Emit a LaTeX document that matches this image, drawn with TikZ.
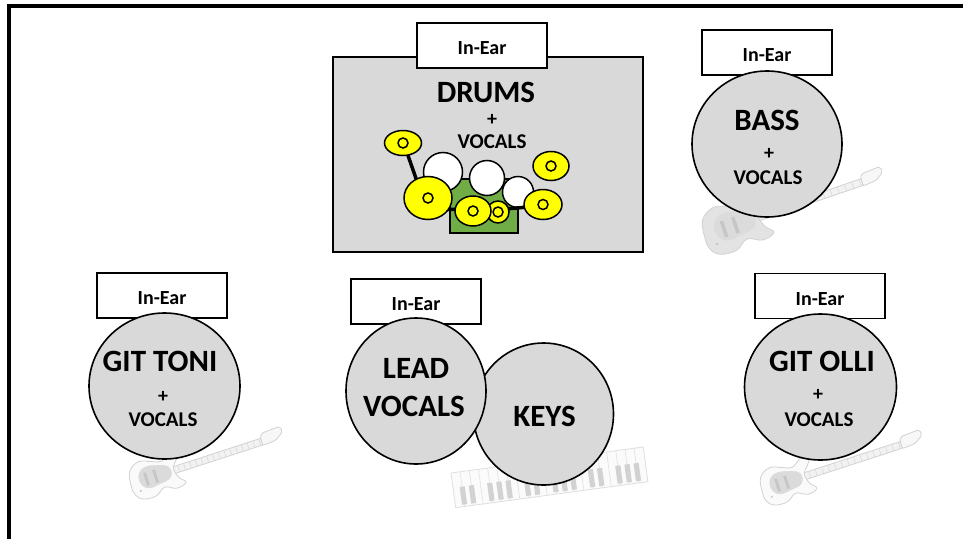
\documentclass[tikz,border=0pt]{standalone}
\usepackage{fontspec}
\setmainfont{Carlito}
\usetikzlibrary{shapes.geometric}
\definecolor{stagegray}{HTML}{D9D9D9}
\definecolor{cymyellow}{HTML}{FFFF00}
\definecolor{kitgreen}{HTML}{70AD47}
\tikzset{
  stagebox/.style={draw=black, line width=1.3pt, fill=white, minimum width=130pt, minimum height=45pt, inner sep=0pt, text height=18pt, text depth=0pt, font=\fontsize{20}{24}\selectfont\bfseries},
  member/.style={draw=black, line width=1.6pt, fill=stagegray, ellipse, inner sep=0pt},
  bigtxt/.style={font=\fontsize{31}{36}\selectfont\bfseries, anchor=base, inner sep=0pt},
  smalltxt/.style={font=\fontsize{21}{25}\selectfont\bfseries, anchor=base, inner sep=0pt},
  plustxt/.style={font=\fontsize{20}{24}\selectfont\bfseries, inner sep=0pt},
  cymbal/.style={draw=black, line width=1.5pt, fill=cymyellow},
  drumshell/.style={draw=black, line width=1.5pt, fill=white},
  stand/.style={draw=black, line width=3.5pt},
  gline/.style={draw=gray!35, line width=0.8pt},
}
% guitar: #1 x, #2 y, #3 rotation, #4 neck length, #5 body scale, #6 body fill
\newcommand\myguitarpic[6]{%
  \begin{scope}[shift={(#1,#2)}, rotate=#3]
    \filldraw[gline, fill=gray!6, rounded corners=2pt] (#4-22,-4) -- (#4-20,-8) -- (#4,-9) -- (#4+1,-3) -- (#4-8,3) -- (#4-22,4) -- cycle;
    \filldraw[gline, fill=gray!10] (18,-3.5) rectangle (#4-22,3.5);
    \foreach \f in {0,...,14} {\draw[gray!30, line width=0.6pt] ({24+\f*(#4-48)/14},-3.5) -- ++(0,7);}
    \begin{scope}[scale=#5]
      \filldraw[gline, fill=#6] plot[smooth cycle, tension=0.65] coordinates {(-28,2) (-25,-13) (-13,-20) (0,-16) (10,-13) (22,-20) (31,-20) (26,-10) (20,-3) (22,8) (28,16) (17,19) (5,14) (-6,20) (-20,19) (-27,12)};
      \filldraw[gray!28] plot[smooth cycle, tension=0.7] coordinates {(-18,-3) (-10,-12) (6,-10) (16,-4) (14,6) (2,9) (-13,9)};
      \fill[gray!45] (-12,-7) rectangle (-9,7);
      \fill[gray!45] (-2,-7) rectangle (1,7);
      \fill[gray!45] (-20,10) circle (1.2);
    \end{scope}
  \end{scope}}
\begin{document}
\begin{tikzpicture}[x=1pt, y=-1pt]
\useasboundingbox (0,0) rectangle (963,538);
\fill[white] (0,0) rectangle (963,538);
\begin{scope}
\clip (0,0) rectangle (963,538);
\draw[line width=4pt] (8.5,560) -- (8.5,5.5) -- (990,5.5);
\end{scope}

% ---------------- drums ----------------
\node[draw=black, line width=1.3pt, fill=stagegray, minimum width=310pt, minimum height=195pt, inner sep=0pt] (drumriser) at (488,154.5) {};
\node[stagebox] (ieDrums) at (482,45.5) {In-Ear};
\node[bigtxt] (drumsname) at (486,102) {DRUMS};
\node[plustxt] (drumsplus) at (492,119.5) {+};
\node[smalltxt] (drumsvoc) at (492,148) {VOCALS};

\filldraw[draw=black, line width=1.5pt, fill=kitgreen] (450,179) rectangle (518,233);
\draw[drumshell] (443,172) circle (19.5);
\draw[drumshell] (487,178) circle (17.5);
\draw[drumshell] (518,192) circle (15.5);
\draw[stand] (404,144) -- (420,190);
\draw[stand] (440,209) -- (470,210);
\draw[stand] (505,209) -- (540,206);
\filldraw[cymbal] (403,143) ellipse (18.5 and 12.5);
\filldraw[cymbal] (428,198) ellipse (24 and 21.5);
\filldraw[cymbal] (498,212) circle (11);
\filldraw[cymbal] (473,211) ellipse (18 and 15);
\filldraw[cymbal] (543,204.5) ellipse (19 and 15);
\filldraw[cymbal] (551,166) ellipse (18 and 14.5);
\foreach \p in {(403,143),(428,198),(498,212),(473,211),(543,204.5),(551,166)}
  \draw[black, line width=1.5pt] \p circle (5);

% ---------------- instrument sketches ----------------
\myguitarpic{736}{225}{18.8}{155}{1.2}{gray!22}
\myguitarpic{156}{476}{18}{133}{0.95}{gray!4}
\myguitarpic{787}{482}{18}{142}{0.95}{gray!4}

\begin{scope}[shift={(451,473)}, rotate=7.7]
  \filldraw[draw=gray!25, line width=0.8pt, fill=gray!3] (0,0) rectangle (194,35);
  \foreach \k in {1,...,20} {\draw[gray!22, line width=0.7pt] ({\k*194/21},0) -- ({\k*194/21},35);}
  \foreach \k in {1,2,4,5,6,8,9,11,12,13,15,16,18,19,20} {\fill[gray!35] ({\k*194/21-2.6},15) rectangle ({\k*194/21+2.6},33);}
\end{scope}

% ---------------- members ----------------
\node[stagebox] (ieBass) at (767,52.5) {In-Ear};
\node[member, minimum width=150pt, minimum height=146pt] (bass) at (767,144) {};
\node[bigtxt] (bassname) at (767,130) {BASS};
\node[plustxt] (bassplus) at (769,154) {+};
\node[smalltxt] (bassvoc) at (768,184) {VOCALS};

\node[stagebox] (ieToni) at (162,295.5) {In-Ear};
\node[member, minimum width=151pt, minimum height=146pt] (toni) at (164.5,386) {};
\node[bigtxt] (toniname) at (160,371) {GIT TONI};
\node[plustxt] (toniplus) at (163,397) {+};
\node[smalltxt] (tonivoc) at (163,426.5) {VOCALS};

\node[stagebox] (ieLead) at (416,301.5) {In-Ear};
\node[member, minimum width=140pt, minimum height=142pt] (keys) at (543.5,414) {};
\node[member, minimum width=140pt, minimum height=146pt] (lead) at (416,391) {};
\node[bigtxt] (leadname1) at (416,378) {LEAD};
\node[bigtxt] (leadname2) at (414,416.5) {VOCALS};
\node[bigtxt] (keysname) at (544.5,426.5) {KEYS};

\node[stagebox] (ieOlli) at (820,296) {In-Ear};
\node[member, minimum width=152pt, minimum height=146pt] (olli) at (820.5,387) {};
\node[bigtxt] (olliname) at (822,371) {GIT OLLI};
\node[plustxt] (olliplus) at (818,395) {+};
\node[smalltxt] (ollivoc) at (819,426.5) {VOCALS};
\end{tikzpicture}
\end{document}
